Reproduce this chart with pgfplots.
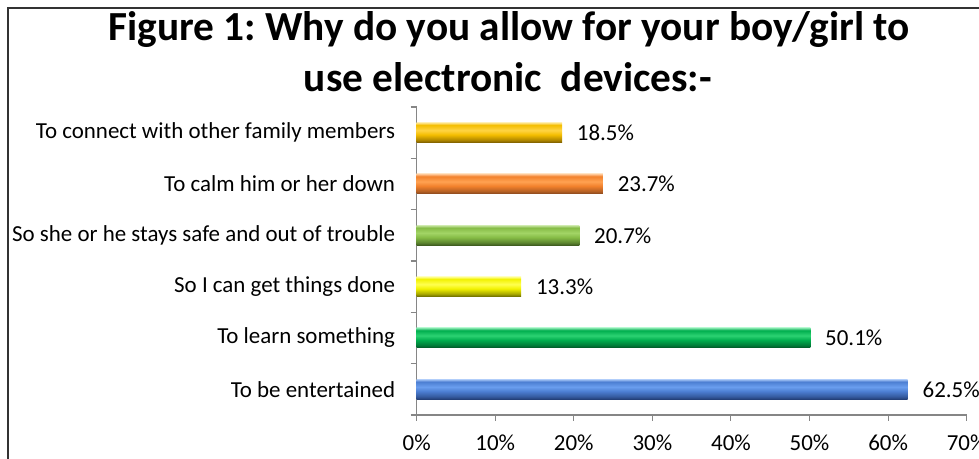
\documentclass[border=0pt]{standalone}
\usepackage{pgfplots}
\pgfplotsset{compat=1.18}
\usepackage{fontspec}
\setmainfont{Carlito}
\frenchspacing
\definecolor{axisgray}{HTML}{868686}
% bar colours: base, light highlight, dark bottom
\definecolor{blueB}{HTML}{4C7ED2}\definecolor{blueL}{HTML}{6A9EEE}\definecolor{blueD}{HTML}{223D74}
\definecolor{greenB}{HTML}{00AE4E}\definecolor{greenL}{HTML}{2CD272}\definecolor{greenD}{HTML}{005426}
\definecolor{yelB}{HTML}{F2F200}\definecolor{yelL}{HTML}{FFFF50}\definecolor{yelD}{HTML}{6A6A00}
\definecolor{oliveB}{HTML}{86BC46}\definecolor{oliveL}{HTML}{A2D466}\definecolor{oliveD}{HTML}{3C5A1E}
\definecolor{orangeB}{HTML}{F2812C}\definecolor{orangeL}{HTML}{FFA252}\definecolor{orangeD}{HTML}{84461E}
\definecolor{goldB}{HTML}{F4BE00}\definecolor{goldL}{HTML}{FFD444}\definecolor{goldD}{HTML}{7A5C00}
\newcommand\barshading[2]{%
  \pgfdeclareverticalshading{#1}{100bp}{color(0bp)=(#2D); color(25bp)=(#2D); color(32bp)=(#2D!55!#2B); color(45bp)=(#2B); color(56bp)=(#2L); color(69bp)=(#2B); color(75bp)=(#2L!60!white); color(100bp)=(#2L!60!white)}}
\barshading{bluebar}{blue}
\barshading{greenbar}{green}
\barshading{yelbar}{yel}
\barshading{olivebar}{olive}
\barshading{orangebar}{orange}
\barshading{goldbar}{gold}
\begin{document}
\begin{tikzpicture}
\useasboundingbox (0,0) rectangle (734.25pt,344.25pt);
\draw[line width=1.1pt, color=black!80] (6pt,338.25pt) rectangle (760pt,-20pt);
\node[font=\bfseries\fontsize{31}{36}\selectfont, anchor=base, inner sep=0pt] at (381.75pt,313.5pt) {Figure 1: Why do you allow for your boy/girl to};
\node[font=\bfseries\fontsize{31}{36}\selectfont, anchor=base, inner sep=0pt] at (381pt,275.25pt) {use electronic\ \ devices:-};
\begin{axis}[
  at={(312.5pt,33pt)}, anchor=south west, scale only axis,
  width=412.5pt, height=231pt,
  xbar, bar width=15pt, bar shift=0pt,
  xmin=0, xmax=70, ymin=0.5, ymax=6.5,
  axis x line=bottom, axis y line=left,
  axis line style={-, draw=axisgray, line width=1pt},
  xtick={0,10,...,70},
  xticklabel={\pgfmathprintnumber{\tick}\%},
  ytick={0.5,1.5,...,6.5}, yticklabels={},
  extra y ticks={1,2,3,4,5,6},
  extra y tick labels={To be entertained, To learn something, So I can get things done, So she or he stays safe and out of trouble, To calm him or her down, To connect with other family members},
  extra y tick style={major tick length=0pt, tick label style={inner sep=0pt, xshift=-16pt}},
  tick style={draw=axisgray, line width=0.8pt},
  tick align=outside, major tick length=4.5pt,
  ticklabel style={font=\fontsize{17.2}{20}\selectfont, text=black},
  xticklabel style={yshift=-7pt},
  /pgf/number format/assume math mode=true,
  point meta=x,
  nodes near coords={\pgfmathprintnumber[fixed,fixed zerofill,precision=1]{\pgfplotspointmeta}\%},
  nodes near coords style={anchor=west, font=\fontsize{17.2}{20}\selectfont, inner sep=0pt, xshift=11pt, text=black},
  clip=false,
]
\addplot[draw=none, shade, shading=bluebar, bar shift=0pt] coordinates {(62.5,1)};
\addplot[draw=none, shade, shading=greenbar, bar shift=0pt] coordinates {(50.1,2)};
\addplot[draw=none, shade, shading=yelbar, bar shift=0pt] coordinates {(13.3,3)};
\addplot[draw=none, shade, shading=olivebar, bar shift=0pt] coordinates {(20.7,4)};
\addplot[draw=none, shade, shading=orangebar, bar shift=0pt] coordinates {(23.7,5)};
\addplot[draw=none, shade, shading=goldbar, bar shift=0pt] coordinates {(18.5,6)};
\end{axis}
\end{tikzpicture}
\end{document}
